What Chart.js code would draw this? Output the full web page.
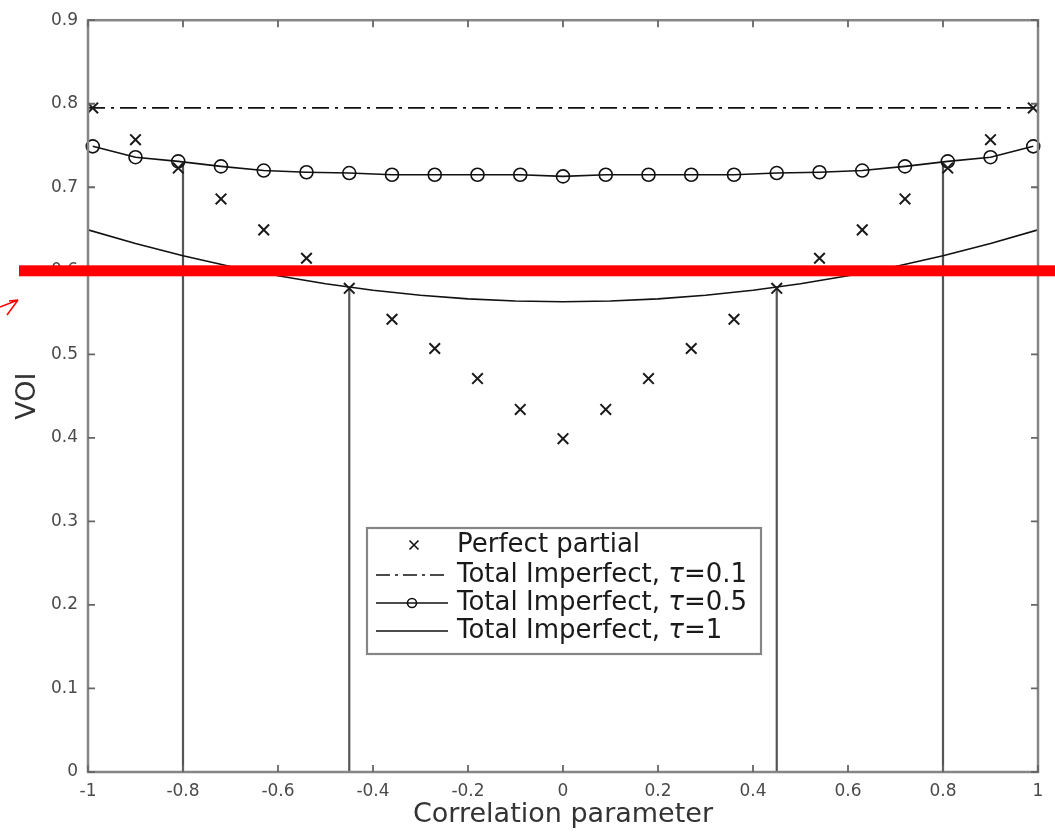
<!DOCTYPE html>
<html><head><meta charset="utf-8">
<script src="https://cdn.jsdelivr.net/npm/chart.js@4"></script>
<style>html,body{margin:0;padding:0;background:#fff;}#wrap{width:1055px;height:832px;}</style>
</head><body><div id="wrap"><canvas id="c" width="1055" height="832"></canvas></div>
<script>
// ---- data ----
const corrX = [-0.99,-0.9,-0.81,-0.72,-0.63,-0.54,-0.45,-0.36,-0.27,-0.18,-0.09,0,0.09,0.18,0.27,0.36,0.45,0.54,0.63,0.72,0.81,0.9,0.99];
const perfectPartial = [0.795,0.757,0.723,0.686,0.649,0.615,0.579,0.542,0.507,0.471,0.434,0.399,0.434,0.471,0.507,0.542,0.579,0.615,0.649,0.686,0.723,0.757,0.795];
const tau05 = [0.749,0.736,0.731,0.725,0.720,0.718,0.717,0.715,0.715,0.715,0.715,0.713,0.715,0.715,0.715,0.715,0.717,0.718,0.720,0.725,0.731,0.736,0.749];
const tau01X = [-1,1];
const tau01 = [0.795,0.795];
const tau1X = [-1,-0.9,-0.8,-0.7,-0.6,-0.5,-0.4,-0.3,-0.2,-0.1,0,0.1,0.2,0.3,0.4,0.5,0.6,0.7,0.8,0.9,1];
const tau1 = [0.6490,0.6327,0.6180,0.6051,0.5940,0.5845,0.5768,0.5707,0.5664,0.5639,0.5630,0.5639,0.5664,0.5707,0.5768,0.5845,0.5940,0.6051,0.6180,0.6327,0.6490];
const guideX = [-0.8,-0.45,0.45,0.8];
const guideTop = [0.728,0.579,0.579,0.728];
const threshold = 0.6;
const xTicks = [-1,-0.8,-0.6,-0.4,-0.2,0,0.2,0.4,0.6,0.8,1];
const yTicks = [0,0.1,0.2,0.3,0.4,0.5,0.6,0.7,0.8,0.9];
const legendLabels = ['Perfect partial','Total Imperfect, ','Total Imperfect, ','Total Imperfect, '];
const legendTau = [null,'0.1','0.5','1'];

const FONT = "'DejaVu Sans', 'Liberation Sans', Arial, sans-serif";
const pts = (xs, ys) => xs.map((x,i)=>({x:x,y:ys[i]}));

const datasets = [];
guideX.forEach((gx,i)=>{
  datasets.push({data:[{x:gx,y:0},{x:gx,y:guideTop[i]}], borderColor:'#555', borderWidth:2.2, pointRadius:0, order:5, clip:false});
});
datasets.push({data:pts(tau1X,tau1), borderColor:'#111', borderWidth:1.6, pointRadius:0, tension:0, order:2});
datasets.push({data:pts(tau01X,tau01), borderColor:'#111', borderWidth:1.6, borderDash:[17,6,3,6], pointRadius:0, order:2});
datasets.push({data:pts(corrX,tau05), borderColor:'#111', borderWidth:1.6, pointRadius:6.5, pointStyle:'circle', pointBorderColor:'#111', pointBackgroundColor:'rgba(0,0,0,0)', pointBorderWidth:1.6, order:1, clip:10});
datasets.push({data:pts(corrX,perfectPartial), showLine:false, borderColor:'#111', pointStyle:'crossRot', pointRadius:7.5, pointBorderWidth:2, pointBorderColor:'#1a1a1a', order:0, clip:10});

const overlay = {
  id:'overlay',
  afterDatasetsDraw(chart){
    const ctx = chart.ctx, a = chart.chartArea;
    const xs = chart.scales.x, ys = chart.scales.y;
    ctx.save();
    // axes box
    ctx.strokeStyle = '#858585'; ctx.lineWidth = 2.5;
    ctx.strokeRect(a.left, a.top, a.right-a.left, a.bottom-a.top);
    // inside ticks on all sides
    ctx.lineWidth = 1.8; ctx.strokeStyle = '#666';
    xTicks.forEach(v=>{
      const px = xs.getPixelForValue(v);
      ctx.beginPath(); ctx.moveTo(px,a.bottom); ctx.lineTo(px,a.bottom-7);
      ctx.moveTo(px,a.top); ctx.lineTo(px,a.top+7); ctx.stroke();
    });
    yTicks.forEach(v=>{
      const py = ys.getPixelForValue(v);
      ctx.beginPath(); ctx.moveTo(a.left,py); ctx.lineTo(a.left+7,py);
      ctx.moveTo(a.right,py); ctx.lineTo(a.right-7,py); ctx.stroke();
    });
    // legend
    const L = {x:367, y:528, w:394, h:126};
    ctx.fillStyle = '#fff'; ctx.fillRect(L.x,L.y,L.w,L.h);
    ctx.strokeStyle = '#858585'; ctx.lineWidth = 2.2; ctx.strokeRect(L.x,L.y,L.w,L.h);
    const rows = [545,575,603,631];
    const sx0 = 376, sx1 = 448, tx = 457;
    ctx.strokeStyle = '#111'; ctx.lineWidth = 1.6;
    ctx.beginPath(); const m = 4.5, mx = 414;
    ctx.moveTo(mx-m,rows[0]-m); ctx.lineTo(mx+m,rows[0]+m);
    ctx.moveTo(mx+m,rows[0]-m); ctx.lineTo(mx-m,rows[0]+m); ctx.stroke();
    ctx.setLineDash([14,5,3,5]);
    ctx.beginPath(); ctx.moveTo(sx0,rows[1]); ctx.lineTo(sx1,rows[1]); ctx.stroke();
    ctx.setLineDash([]);
    ctx.beginPath(); ctx.moveTo(sx0,rows[2]); ctx.lineTo(sx1,rows[2]); ctx.stroke();
    ctx.beginPath(); ctx.arc(412,rows[2],4.5,0,Math.PI*2); ctx.stroke();
    ctx.beginPath(); ctx.moveTo(sx0,rows[3]); ctx.lineTo(sx1,rows[3]); ctx.stroke();
    ctx.fillStyle = '#1a1a1a'; ctx.textBaseline = 'middle'; ctx.textAlign = 'left';
    legendLabels.forEach((t,i)=>{
      ctx.font = '26px ' + FONT;
      ctx.fillText(t, tx, rows[i]);
      if (legendTau[i] !== null) {
        let x = tx + ctx.measureText(t).width;
        ctx.font = 'italic 26px ' + FONT;
        ctx.fillText('τ', x, rows[i]);
        x += ctx.measureText('τ').width;
        ctx.font = '26px ' + FONT;
        ctx.fillText('=' + legendTau[i], x, rows[i]);
      }
    });
    // red threshold line
    const ry = ys.getPixelForValue(threshold);
    ctx.fillStyle = '#ff0000';
    ctx.fillRect(19, ry-5.5, chart.width-19, 11);
    // small red arrow
    ctx.strokeStyle = '#ff0000'; ctx.lineWidth = 1.5;
    ctx.beginPath();
    ctx.moveTo(0,307); ctx.lineTo(18,300);
    ctx.moveTo(18,300); ctx.lineTo(9,301);
    ctx.moveTo(18,300); ctx.lineTo(7,315);
    ctx.stroke();
    ctx.restore();
  }
};

new Chart(document.getElementById('c'), {
  type:'line',
  data:{datasets:datasets},
  options:{
    responsive:false, animation:false, devicePixelRatio:1,
    layout:{padding:{top:19,right:17,left:0,bottom:0}},
    plugins:{legend:{display:false}, tooltip:{enabled:false}},
    scales:{
      x:{type:'linear', min:-1, max:1,
        afterBuildTicks:(s)=>{s.ticks = xTicks.map(v=>({value:v}));},
        afterFit:(s)=>{s.height = 60;},
        grid:{display:false, drawTicks:false}, border:{display:false},
        ticks:{color:'#4a4a4a', font:{family:FONT,size:17}, padding:9, maxRotation:0, autoSkip:false,
          callback:(v)=>String(Math.round(v*10)/10)},
        title:{display:true, text:'Correlation parameter', color:'#333', font:{family:FONT,size:27}, padding:{top:0,bottom:1}}
      },
      y:{type:'linear', min:0, max:0.9,
        afterBuildTicks:(s)=>{s.ticks = yTicks.map(v=>({value:v}));},
        afterFit:(s)=>{s.width = 88;},
        grid:{display:false, drawTicks:false}, border:{display:false},
        ticks:{color:'#4a4a4a', font:{family:FONT,size:17}, padding:10, autoSkip:false,
          callback:(v)=>String(Math.round(v*10)/10)},
        title:{display:true, text:'VOI', color:'#333', font:{family:FONT,size:27}, padding:{top:12,bottom:0}}
      }
    }
  },
  plugins:[overlay]
});
</script></body></html>
